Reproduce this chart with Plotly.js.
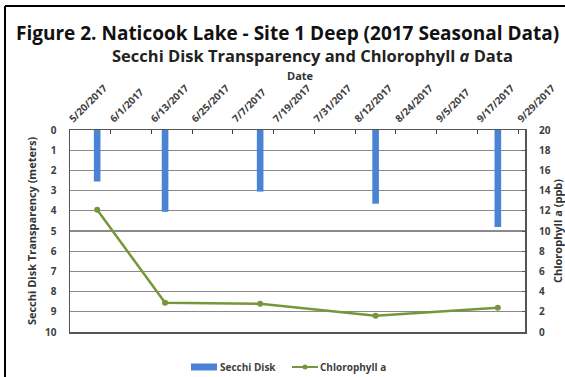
<!DOCTYPE html>
<html><head><meta charset="utf-8">
<script src="https://cdn.plot.ly/plotly-3.0.1.min.js"></script>
<style>html,body{margin:0;padding:0;background:#fff}#chart{width:565px;height:377px}</style>
</head><body><div id="chart"></div>
<script>
const sampleDates = ['2017-05-28','2017-06-17','2017-07-15','2017-08-18','2017-09-23'];
const secchiDepth = [2.55, 4.05, 3.05, 3.65, 4.8];
const chlorophyll = [12.1, 2.9, 2.8, 1.6, 2.4];
const tickDates = ['2017-05-20','2017-06-01','2017-06-13','2017-06-25','2017-07-07','2017-07-19','2017-07-31','2017-08-12','2017-08-24','2017-09-05','2017-09-17','2017-09-29'];
const tickLabels = ['5/20/2017','6/1/2017','6/13/2017','6/25/2017','7/7/2017','7/19/2017','7/31/2017','8/12/2017','8/24/2017','9/5/2017','9/17/2017','9/29/2017'];
const leftTicks = [0,1,2,3,4,5,6,7,8,9,10];
const rightTicks = [0,2,4,6,8,10,12,14,16,18,20];
const seriesNames = ['Secchi Disk','Chlorophyll a'];

const F = 'Open Sans, Noto Sans, sans-serif';
const W = 565, H = 377, ml = 70, mr = 40, mt = 130, mb = 45;
const pw = W - ml - mr, ph = H - mt - mb;
const px = v => (v - ml) / pw;
const py = v => (H - mb - v) / ph;
const BLUE = '#4a83d6', GREEN = '#77963a';

const traces = [
  {type:'bar', x: sampleDates, y: secchiDepth, name: seriesNames[0], yaxis:'y',
   marker:{color: BLUE}, width: 1.95*86400000},
  {type:'scatter', mode:'lines+markers', x: sampleDates, y: chlorophyll, name: seriesNames[1], yaxis:'y2',
   line:{color: GREEN, width:2.5}, marker:{color: GREEN, size:6}}
];
const lf = {size:10, family:F, color:'#404040', weight:'bold'};
const layout = {
  width: W, height: H, margin:{l:ml, r:mr, t:mt, b:mb, autoexpand:false},
  paper_bgcolor:'#fff', plot_bgcolor:'#fff',
  font:{family:F, color:'#404040'},
  showlegend:false,
  xaxis:{type:'date', side:'top', range:['2017-05-20','2017-10-01'],
    tickmode:'array', tickvals: tickDates, ticktext: tickLabels, tickangle:-45,
    tickfont:{size:10, family:F, color:'#404040', weight:'bold'},
    ticks:'inside', ticklen:4, tickcolor:'#404040',
    showgrid:false, showline:true, linecolor:'#555', linewidth:1.5, mirror:true},
  yaxis:{range:[10,0], tickvals: leftTicks, showgrid:true, gridcolor:'#8a8a8a', gridwidth:1.2,
    tickfont:{size:10, family:F, color:'#404040', weight:'bold'}, ticklabelstandoff:10,
    showline:true, linecolor:'#555', linewidth:1.5, mirror:true, zeroline:false, ticks:'',
    title:{text:'<b>Secchi Disk Transparency (meters)</b>', font:{size:11, family:F, color:'#333'}, standoff:6}},
  yaxis2:{overlaying:'y', side:'right', range:[0,20], tickvals: rightTicks, showgrid:false,
    tickfont:{size:10, family:F, color:'#404040', weight:'bold'}, zeroline:false, ticklabelstandoff:13,
    ticks:'inside', ticklen:3, tickcolor:'#555',
    title:{text:'<b>Chlorophyll a (ppb)</b>', font:{size:11, family:F, color:'#333'}, standoff:14}},
  annotations:[
    {text:'<b>Figure 2. Naticook Lake - Site 1 Deep (2017 Seasonal Data)</b>', xref:'paper', yref:'paper',
     x:px(287), y:py(33), xanchor:'center', yanchor:'middle', showarrow:false, font:{size:19, family:F, color:'#111'}},
    {text:'<b>Secchi Disk Transparency and Chlorophyll <i>a</i> Data</b>', xref:'paper', yref:'paper',
     x:px(312), y:py(56), xanchor:'center', yanchor:'middle', showarrow:false, font:{size:16.5, family:F, color:'#222'}},
    {text:'<b>Date</b>', xref:'paper', yref:'paper', x:px(300), y:py(75), xanchor:'center', yanchor:'middle',
     showarrow:false, font:{size:11, family:F, color:'#333'}},
    {text:'<b>'+seriesNames[0]+'</b>', xref:'paper', yref:'paper', x:px(218), y:py(367), xanchor:'left', yanchor:'middle',
     showarrow:false, font:lf},
    {text:'<b>'+seriesNames[1]+'</b>', xref:'paper', yref:'paper', x:px(318), y:py(367), xanchor:'left', yanchor:'middle',
     showarrow:false, font:lf}
  ],
  shapes:[
    {type:'line', xref:'paper', yref:'paper', x0:px(5), x1:px(5), y0:py(6), y1:py(380), line:{color:'#000', width:2}},
    {type:'line', xref:'paper', yref:'paper', x0:px(5), x1:px(570), y0:py(6), y1:py(6), line:{color:'#000', width:2}},
    {type:'rect', xref:'paper', yref:'paper', x0:px(191), x1:px(217), y0:py(363.5), y1:py(370.5), fillcolor:BLUE, line:{width:0}},
    {type:'line', xref:'paper', yref:'paper', x0:px(292), x1:px(318), y0:py(367), y1:py(367), line:{color:GREEN, width:2}},
    {type:'circle', xref:'paper', yref:'paper', x0:px(302.5), x1:px(307.5), y0:py(364.5), y1:py(369.5), fillcolor:GREEN, line:{width:0}}
  ]
};
Plotly.newPlot('chart', traces, layout, {displayModeBar:false, staticPlot:true});
</script></body></html>
